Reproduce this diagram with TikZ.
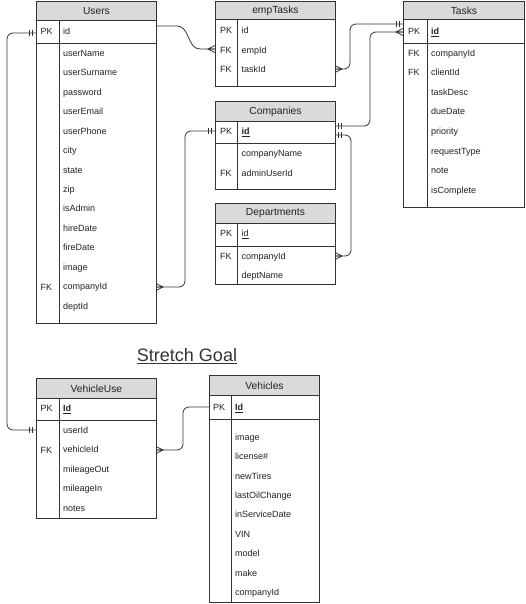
\documentclass[tikz,border=0pt]{standalone}
\usepackage{fontspec}
\setmainfont{Liberation Sans}
\definecolor{ln}{HTML}{333333}
\definecolor{hd}{HTML}{DADADA}
\definecolor{tx}{HTML}{222222}
\tikzset{
  tline/.style={draw=ln, line width=0.9pt},
  hdr/.style={fill=hd, draw=ln, line width=0.9pt, font=\fontsize{10.3}{12}\selectfont, text=tx, inner sep=0pt, anchor=north west},
  bodybox/.style={draw=ln, fill=white, line width=0.9pt, inner sep=0pt, anchor=north west},
  fld/.style={anchor=west, inner sep=0pt, font=\fontsize{9}{10}\selectfont, text=tx, text height=6.5pt, text depth=0pt},
  conn/.style={draw=ln, line width=0.8pt, rounded corners=6pt},
  one/.pic={\draw[ln, line width=0.8pt] (3.5,-3.2)--(3.5,3.2) (6.5,-3.2)--(6.5,3.2);},
  many/.pic={\draw[ln, line width=0.7pt] (0,-3.5)--(7,0)--(0,3.5) (0,0)--(7,0);}
}
\newcommand\ertable[8]{%
  \node[bodybox, minimum width={#3pt-#2pt}, minimum height={#6pt-#5pt}] (#1-body) at (#2,#5) {};
  \node[hdr, minimum width={#3pt-#2pt}, minimum height={#5pt-#4pt}] (#1) at (#2,#4) {#8};
  \draw[tline] (#7,#5) -- (#7,#6);
}
\begin{document}
\begin{tikzpicture}[x=1pt,y=-1pt]
\useasboundingbox (0,0) rectangle (525,604);

% ---------- Users ----------
\ertable{users}{36}{156}{1.5}{20}{323}{59}{Users}
\draw[tline] (36,43) -- (156,43);
\node[fld] (users-pk) at (40.5,31) {PK};
\node[fld] (users-id) at (63,31) {id};
\foreach \t [count=\i] in {userName,userSurname,password,userEmail,userPhone,city,state,zip,isAdmin,hireDate,fireDate,image,companyId,deptId}
  \node[fld] (users-\i) at (63,{53+19.46*(\i-1)}) {\t};
\node[fld] (users-fk) at (40.5,287) {FK};

% ---------- empTasks ----------
\ertable{emptasks}{215}{335}{1}{19.5}{86}{237}{empTasks}
\node[fld] (et-pk) at (220,30) {PK};
\node[fld] (et-fk1) at (220,50) {FK};
\node[fld] (et-fk2) at (220,69) {FK};
\node[fld] (et-1) at (241.5,30) {id};
\node[fld] (et-2) at (241.5,50) {empId};
\node[fld] (et-3) at (241.5,69) {taskId};

% ---------- Companies ----------
\ertable{companies}{215}{335}{101}{121}{189}{237}{Companies}
\draw[tline] (215,143) -- (335,143);
\node[fld] (co-pk) at (220,131) {PK};
\node[fld] (co-id) at (241.5,131) {\textbf{\underline{id}}};
\node[fld] (co-1) at (241.5,153) {companyName};
\node[fld] (co-fk) at (220,173) {FK};
\node[fld] (co-2) at (241.5,173) {adminUserId};

% ---------- Departments ----------
\ertable{departments}{215}{335}{203}{223}{284}{237.5}{Departments}
\draw[tline] (215,246) -- (335,246);
\node[fld] (de-pk) at (220,233) {PK};
\node[fld] (de-id) at (241.5,233) {\underline{id}};
\node[fld] (de-fk) at (220,256) {FK};
\node[fld] (de-1) at (241.5,256) {companyId};
\node[fld] (de-2) at (241.5,275) {deptName};

% ---------- Tasks ----------
\ertable{tasks}{403}{524}{1.5}{19.5}{207}{427}{Tasks}
\draw[tline] (403,43) -- (524,43);
\node[fld] (ta-pk) at (408,31) {PK};
\node[fld] (ta-id) at (431,31) {\textbf{\underline{id}}};
\foreach \t [count=\i] in {companyId,clientId,taskDesc,dueDate,priority,requestType,note,isComplete}
  \node[fld] (ta-\i) at (431,{53+19.57*(\i-1)}) {\t};
\node[fld] (ta-fk1) at (408,53) {FK};
\node[fld] (ta-fk2) at (408,72) {FK};

% ---------- Stretch goal ----------
\node[font=\fontsize{18}{20}\selectfont, text=ln, inner sep=0pt] (stretch) at (187,356) {\underline{Stretch Goal}};

% ---------- VehicleUse ----------
\ertable{vehicleuse}{36}{156}{378}{398}{518}{59}{VehicleUse}
\draw[tline] (36,420) -- (156,420);
\node[fld] (vu-pk) at (40.5,408) {PK};
\node[fld] (vu-id) at (63,408) {\textbf{\underline{Id}}};
\foreach \t [count=\i] in {userId,vehicleId,mileageOut,mileageIn,notes}
  \node[fld] (vu-\i) at (63,{430+19.5*(\i-1)}) {\t};
\node[fld] (vu-fk) at (40.5,450) {FK};

% ---------- Vehicles ----------
\ertable{vehicles}{209}{319}{375}{395}{602}{231}{Vehicles}
\draw[tline] (209,419) -- (319,419);
\node[fld] (ve-pk) at (213,407) {PK};
\node[fld] (ve-id) at (235,407) {\textbf{\underline{Id}}};
\foreach \t [count=\i] in {image,license\#,newTires,lastOilChange,inServiceDate,VIN,model,make,companyId}
  \node[fld] (ve-\i) at (235,{437+19.4*(\i-1)}) {\t};

% ---------- connection points ----------
\coordinate (u-id-r) at (156,26);
\coordinate (u-id-l) at (36,33);
\coordinate (u-co-r) at (156,287);
\coordinate (et-emp-l) at (215,49);
\coordinate (et-task-r) at (335,69);
\coordinate (ta-id-l1) at (403,24);
\coordinate (ta-id-l2) at (403,32);
\coordinate (co-id-r1) at (335,126);
\coordinate (co-id-r2) at (335,135);
\coordinate (co-id-l) at (215,131);
\coordinate (de-co-r) at (335,256);
\coordinate (vu-user-l) at (36,430);
\coordinate (vu-veh-r) at (156,450);
\coordinate (ve-id-l) at (209,407);

% ---------- connectors ----------
\draw[draw=ln, line width=0.8pt] (u-id-r) -- (177,26) .. controls (190,26) and (187,49) .. (200,49) -- (et-emp-l);
\pic[xscale=-1] at (et-emp-l) {many};

\draw[conn] (et-task-r) -- ++(15,0) |- (ta-id-l1);
\pic at (et-task-r) {many};
\pic[xscale=-1] at (ta-id-l1) {one};

\draw[conn] (co-id-r1) -- ++(35,0) |- (ta-id-l2);
\pic at (co-id-r1) {one};
\pic[xscale=-1] at (ta-id-l2) {many};

\draw[conn] (co-id-r2) -- ++(16,0) |- (de-co-r);
\pic at (co-id-r2) {one};
\pic at (de-co-r) {many};

\draw[conn] (co-id-l) -- ++(-30,0) |- (u-co-r);
\pic[xscale=-1] at (co-id-l) {one};
\pic at (u-co-r) {many};

\draw[conn] (u-id-l) -- ++(-29,0) |- (vu-user-l);
\pic[xscale=-1] at (u-id-l) {one};
\pic[xscale=-1] at (vu-user-l) {one};

\draw[conn] (vu-veh-r) -- ++(27,0) |- (ve-id-l);
\pic at (vu-veh-r) {many};
\end{tikzpicture}
\end{document}
